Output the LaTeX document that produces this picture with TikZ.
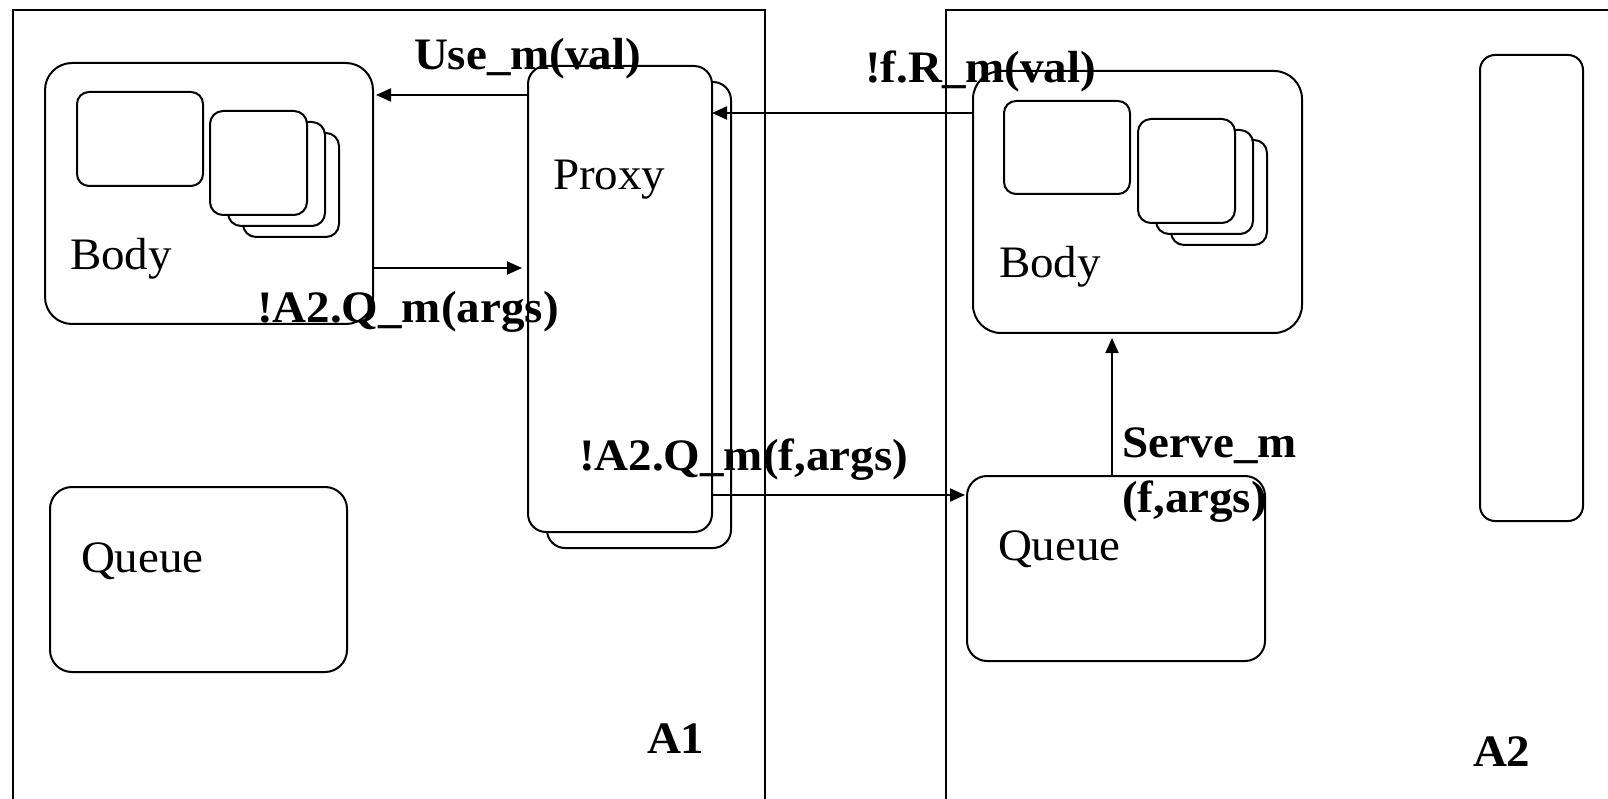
\documentclass[tikz,border=0pt]{standalone}
\usepackage{fontspec}
\setmainfont{Liberation Serif}[FakeStretch=1.045]
\usetikzlibrary{arrows.meta}

\begin{document}
\begin{tikzpicture}[x=1pt, y=-1pt, line width=2pt,
  frame/.style={draw, inner sep=0pt, outer sep=0pt, anchor=north west},
  rbox/.style={draw, fill=white, rounded corners=#1pt, inner sep=0pt, outer sep=0pt, anchor=north west},
  txt/.style={inner sep=0pt, anchor=base west, font=\fontsize{45pt}{54pt}\selectfont},
  lbl/.style={txt, font=\fontsize{45pt}{54pt}\selectfont\bfseries},
  arr/.style={-{Triangle[length=15pt, width=13pt]}, line width=2pt}]

\useasboundingbox (0,0) rectangle (1608,799);
\clip (0,0) rectangle (1608,799);

% the two active objects
\node[frame, minimum width=752pt, minimum height=830pt] (frameA) at (13,10) {};
\node[frame, minimum width=720pt, minimum height=830pt] (frameB) at (946,10) {};

% ---- A1 ----
\node[rbox=27, minimum width=328pt, minimum height=261pt] (bodyA) at (45,63) {};
\node[rbox=12, minimum width=126pt, minimum height=94pt] (innerA) at (77,92) {};
\node[rbox=13, minimum width=96pt, minimum height=104pt] (stackA3) at (243,133) {};
\node[rbox=13, minimum width=97pt, minimum height=104pt] (stackA2) at (228,122) {};
\node[rbox=13, minimum width=97pt, minimum height=104pt] (stackA1) at (210,111) {};
\node[txt] (bodyAtxt) at (69,270) {Body};

\node[rbox=18, minimum width=184pt, minimum height=466pt] (proxyB) at (547,82) {};
\node[rbox=18, minimum width=184pt, minimum height=466pt] (proxyA) at (528,66) {};
\node[txt] (proxytxt) at (552,190) {Proxy};

\node[rbox=22, minimum width=297pt, minimum height=185pt] (queueA) at (50,487) {};
\node[txt] (queueAtxt) at (80,572) {Queue};

% ---- A2 ----
\node[rbox=28, minimum width=329pt, minimum height=262pt] (bodyB) at (973,71) {};
\node[rbox=12, minimum width=126pt, minimum height=93pt] (innerB) at (1004,101) {};
\node[rbox=13, minimum width=96pt, minimum height=105pt] (stackB3) at (1171,140) {};
\node[rbox=13, minimum width=97pt, minimum height=104pt] (stackB2) at (1156,130) {};
\node[rbox=13, minimum width=97pt, minimum height=104pt] (stackB1) at (1138,119) {};
\node[txt] (bodyBtxt) at (998,278) {Body};

\node[rbox=20, minimum width=298pt, minimum height=185pt] (queueB) at (967,476) {};
\node[txt] (queueBtxt) at (997,560) {Queue};

\node[rbox=15, minimum width=103pt, minimum height=466pt] (pending) at (1480,55) {};

% messages
\draw[arr, shorten >=3pt] (proxyA.west |- 0,95) -- (bodyA.east |- 0,95);
\draw[arr, shorten >=6pt] (bodyA.east |- 0,268) -- (proxyA.west |- 0,268);
\draw[arr] (bodyB.west |- 0,113) -- (proxyA.east |- 0,113);
\draw[arr, shorten >=2pt] (proxyA.east |- 0,495) -- (queueB.west |- 0,495);
\draw[arr, shorten >=5pt] (queueB.north -| 1112,0) -- (bodyB.south -| 1112,0);

% labels
\node[lbl] (use) at (413,70) {Use\_m(val)};
\node[lbl] (send) at (256,323) {!A2.Q\_m(args)};
\node[lbl] (sendf) at (578,470) {!A2.Q\_m(f,args)};
\node[lbl] (reply) at (864,83) {!f.R\_m(val)};
\node[lbl] (serve1) at (1121,457) {Serve\_m};
\node[lbl] (serve2) at (1121,512) {(f,args)};
\node[lbl] (nameA) at (646,753) {A1};
\node[lbl] (nameB) at (1472,766) {A2};
\end{tikzpicture}
\end{document}
